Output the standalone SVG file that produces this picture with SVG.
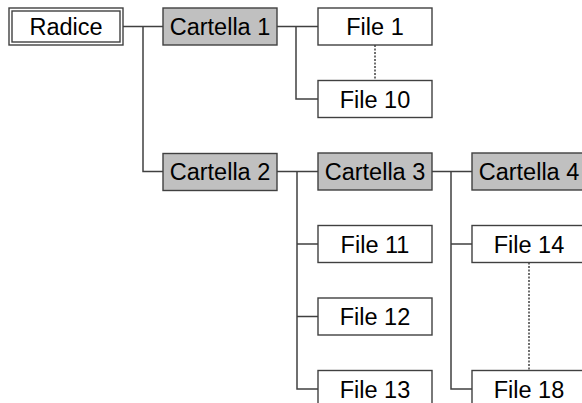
<svg xmlns="http://www.w3.org/2000/svg" width="582" height="403" viewBox="0 0 582 403">
<style>
.box{fill:#ffffff;stroke:#404040;stroke-width:1.4}
.dir{fill:#c0c0c0;stroke:#404040;stroke-width:1.4}
.t{font-family:"Liberation Sans",Arial,sans-serif;font-size:23.5px;fill:#000000;text-anchor:middle}
.ln{fill:none;stroke:#404040;stroke-width:1.5}
.dot{fill:none;stroke:#404040;stroke-width:1.5;stroke-dasharray:2,1.5}
</style>
<rect width="582" height="403" fill="#ffffff"/>
<g id="connectors">
<path class="ln" d="M123,26.5 H163 M143,26.5 V171.5 H163"/>
<path class="ln" d="M277,26.5 H318 M296,26.5 V99 H318"/>
<path class="dot" d="M375,45 V80"/>
<path class="ln" d="M277,171.5 H318 M297,171.5 V389 H318 M297,244 H318 M297,316.5 H318"/>
<path class="ln" d="M432,171.5 H472 M451,171.5 V389 H472 M451,244 H472"/>
<path class="dot" d="M529,262.5 V370.5"/>
</g>
<g id="radice">
<rect class="box" x="9" y="8" width="114" height="37"/>
<rect class="box" x="12" y="11" width="108" height="31"/>
<text class="t" x="66" y="35">Radice</text>
</g>
<g id="cartella1">
<rect class="dir" x="163" y="8" width="114" height="37"/>
<text class="t" x="220" y="35">Cartella 1</text>
</g>
<g id="file1">
<rect class="box" x="318" y="8" width="114" height="37"/>
<text class="t" x="375" y="35">File 1</text>
</g>
<g id="file10">
<rect class="box" x="318" y="80.5" width="114" height="37"/>
<text class="t" x="375" y="107.5">File 10</text>
</g>
<g id="cartella2">
<rect class="dir" x="163" y="153.5" width="114" height="37"/>
<text class="t" x="220" y="180">Cartella 2</text>
</g>
<g id="cartella3">
<rect class="dir" x="318" y="153" width="114" height="37"/>
<text class="t" x="375" y="180">Cartella 3</text>
</g>
<g id="cartella4">
<rect class="dir" x="472" y="153" width="114" height="37"/>
<text class="t" x="529" y="180">Cartella 4</text>
</g>
<g id="file11">
<rect class="box" x="318" y="225.5" width="114" height="37"/>
<text class="t" x="375" y="252.5">File 11</text>
</g>
<g id="file12">
<rect class="box" x="318" y="298" width="114" height="37"/>
<text class="t" x="375" y="325">File 12</text>
</g>
<g id="file13">
<rect class="box" x="318" y="370.5" width="114" height="37"/>
<text class="t" x="375" y="397.5">File 13</text>
</g>
<g id="file14">
<rect class="box" x="472" y="225.5" width="114" height="37"/>
<text class="t" x="529" y="252.5">File 14</text>
</g>
<g id="file18">
<rect class="box" x="472" y="370.5" width="114" height="37"/>
<text class="t" x="529" y="397.5">File 18</text>
</g>
</svg>
